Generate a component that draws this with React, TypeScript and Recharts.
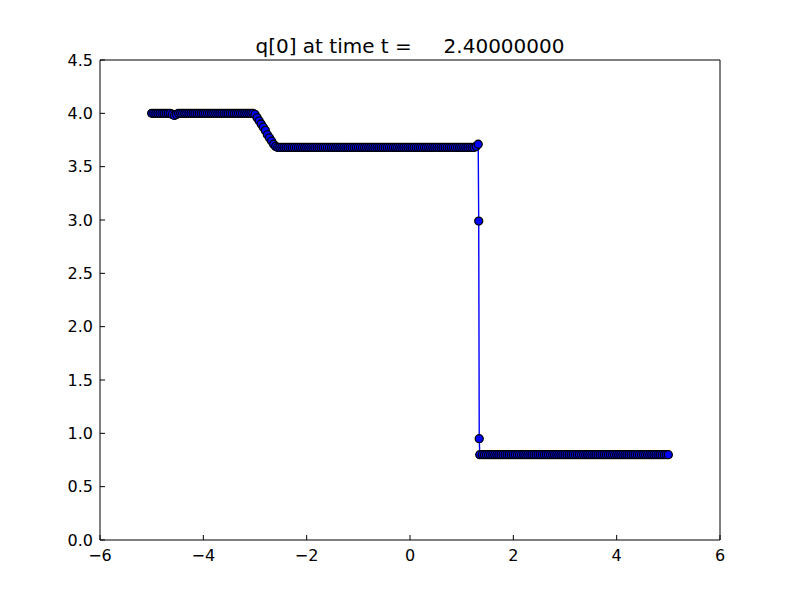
import { LineChart, Line, XAxis, YAxis } from "recharts"

// cells left of the shock
const xLeft = [
  -5.0, -4.96, -4.92, -4.88, -4.84, -4.8, -4.76, -4.72, -4.68, -4.64,
  -4.6, -4.56, -4.52, -4.48, -4.44, -4.4, -4.36, -4.32, -4.28, -4.24,
  -4.2, -4.16, -4.12, -4.08, -4.04, -4.0, -3.96, -3.92, -3.88, -3.84,
  -3.8, -3.76, -3.72, -3.68, -3.64, -3.6, -3.56, -3.52, -3.48, -3.44,
  -3.4, -3.36, -3.32, -3.28, -3.24, -3.2, -3.16, -3.12, -3.08, -3.04,
  -3.0, -2.96, -2.92, -2.88, -2.84, -2.8, -2.76, -2.72, -2.68, -2.64,
  -2.6, -2.56, -2.52, -2.48, -2.44, -2.4, -2.36, -2.32, -2.28, -2.24,
  -2.2, -2.16, -2.12, -2.08, -2.04, -2.0, -1.96, -1.92, -1.88, -1.84,
  -1.8, -1.76, -1.72, -1.68, -1.64, -1.6, -1.56, -1.52, -1.48, -1.44,
  -1.4, -1.36, -1.32, -1.28, -1.24, -1.2, -1.16, -1.12, -1.08, -1.04,
  -1.0, -0.96, -0.92, -0.88, -0.84, -0.8, -0.76, -0.72, -0.68, -0.64,
  -0.6, -0.56, -0.52, -0.48, -0.44, -0.4, -0.36, -0.32, -0.28, -0.24,
  -0.2, -0.16, -0.12, -0.08, -0.04, 0.0, 0.04, 0.08, 0.12, 0.16,
  0.2, 0.24, 0.28, 0.32, 0.36, 0.4, 0.44, 0.48, 0.52, 0.56,
  0.6, 0.64, 0.68, 0.72, 0.76, 0.8, 0.84, 0.88, 0.92, 0.96,
  1.0, 1.04, 1.08, 1.12, 1.16, 1.2, 1.24, 1.28,
]
const qLeft = [
  4.0, 4.0, 4.0, 4.0, 4.0, 4.0, 4.0, 4.0, 4.0, 4.0,
  3.99, 3.98, 3.99, 4.0, 4.0, 4.0, 4.0, 4.0, 4.0, 4.0,
  4.0, 4.0, 4.0, 4.0, 4.0, 4.0, 4.0, 4.0, 4.0, 4.0,
  4.0, 4.0, 4.0, 4.0, 4.0, 4.0, 4.0, 4.0, 4.0, 4.0,
  4.0, 4.0, 4.0, 4.0, 4.0, 4.0, 4.0, 4.0, 4.0, 4.0,
  3.99, 3.96, 3.93, 3.9, 3.87, 3.84, 3.8, 3.77, 3.74, 3.71,
  3.69, 3.68, 3.68, 3.68, 3.68, 3.68, 3.68, 3.68, 3.68, 3.68,
  3.68, 3.68, 3.68, 3.68, 3.68, 3.68, 3.68, 3.68, 3.68, 3.68,
  3.68, 3.68, 3.68, 3.68, 3.68, 3.68, 3.68, 3.68, 3.68, 3.68,
  3.68, 3.68, 3.68, 3.68, 3.68, 3.68, 3.68, 3.68, 3.68, 3.68,
  3.68, 3.68, 3.68, 3.68, 3.68, 3.68, 3.68, 3.68, 3.68, 3.68,
  3.68, 3.68, 3.68, 3.68, 3.68, 3.68, 3.68, 3.68, 3.68, 3.68,
  3.68, 3.68, 3.68, 3.68, 3.68, 3.68, 3.68, 3.68, 3.68, 3.68,
  3.68, 3.68, 3.68, 3.68, 3.68, 3.68, 3.68, 3.68, 3.68, 3.68,
  3.68, 3.68, 3.68, 3.68, 3.68, 3.68, 3.68, 3.68, 3.68, 3.68,
  3.68, 3.68, 3.68, 3.68, 3.68, 3.68, 3.68, 3.69,
]

// the shock itself
const xShock = [1.32, 1.33, 1.34, 1.35]
const qShock = [3.71, 2.99, 0.95, 0.8]

// cells right of the shock
const xRight = [
  1.4, 1.44, 1.48, 1.52, 1.56, 1.6, 1.64, 1.68, 1.72, 1.76,
  1.8, 1.84, 1.88, 1.92, 1.96, 2.0, 2.04, 2.08, 2.12, 2.16,
  2.2, 2.24, 2.28, 2.32, 2.36, 2.4, 2.44, 2.48, 2.52, 2.56,
  2.6, 2.64, 2.68, 2.72, 2.76, 2.8, 2.84, 2.88, 2.92, 2.96,
  3.0, 3.04, 3.08, 3.12, 3.16, 3.2, 3.24, 3.28, 3.32, 3.36,
  3.4, 3.44, 3.48, 3.52, 3.56, 3.6, 3.64, 3.68, 3.72, 3.76,
  3.8, 3.84, 3.88, 3.92, 3.96, 4.0, 4.04, 4.08, 4.12, 4.16,
  4.2, 4.24, 4.28, 4.32, 4.36, 4.4, 4.44, 4.48, 4.52, 4.56,
  4.6, 4.64, 4.68, 4.72, 4.76, 4.8, 4.84, 4.88, 4.92, 4.96,
  5.0,
]
const qRight = [
  0.8, 0.8, 0.8, 0.8, 0.8, 0.8, 0.8, 0.8, 0.8, 0.8,
  0.8, 0.8, 0.8, 0.8, 0.8, 0.8, 0.8, 0.8, 0.8, 0.8,
  0.8, 0.8, 0.8, 0.8, 0.8, 0.8, 0.8, 0.8, 0.8, 0.8,
  0.8, 0.8, 0.8, 0.8, 0.8, 0.8, 0.8, 0.8, 0.8, 0.8,
  0.8, 0.8, 0.8, 0.8, 0.8, 0.8, 0.8, 0.8, 0.8, 0.8,
  0.8, 0.8, 0.8, 0.8, 0.8, 0.8, 0.8, 0.8, 0.8, 0.8,
  0.8, 0.8, 0.8, 0.8, 0.8, 0.8, 0.8, 0.8, 0.8, 0.8,
  0.8, 0.8, 0.8, 0.8, 0.8, 0.8, 0.8, 0.8, 0.8, 0.8,
  0.8, 0.8, 0.8, 0.8, 0.8, 0.8, 0.8, 0.8, 0.8, 0.8,
  0.8,
]

const xTicks = [-6, -4, -2, 0, 2, 4, 6]
const yTicks = [0, 0.5, 1, 1.5, 2, 2.5, 3, 3.5, 4, 4.5]

const xs = [...xLeft, ...xShock, ...xRight]
const qs = [...qLeft, ...qShock, ...qRight]
const data = xs.map((x, i) => ({ x, q: qs[i] }))

const FONT = "'DejaVu Sans', sans-serif"

const fmtX = (v: number) => (v < 0 ? `\u2212${Math.abs(v)}` : `${v}`)
const fmtY = (v: number) => v.toFixed(1)

export default function App() {
  return (
    <div
      style={{
        position: "absolute",
        left: 0,
        top: 0,
        width: 800,
        height: 600,
        background: "#fff",
        fontFamily: FONT,
      }}
    >
      <div
        style={{
          position: "absolute",
          left: 100,
          top: 34,
          width: 620,
          height: 24,
          lineHeight: "24px",
          fontSize: 20,
          textAlign: "center",
          whiteSpace: "pre",
          color: "#000",
        }}
      >
        {"q[0] at time t =     2.40000000"}
      </div>
      <LineChart
        width={800}
        height={600}
        data={data}
        margin={{ top: 59, right: 79, bottom: 0, left: 50 }}
      >
        <XAxis
          xAxisId="b"
          dataKey="x"
          type="number"
          domain={[-6, 6]}
          ticks={xTicks}
          allowDataOverflow
          height={60}
          tickSize={-5}
          tickMargin={14.6}
          tickFormatter={fmtX}
          axisLine={{ stroke: "#000", strokeWidth: 1 }}
          tickLine={{ stroke: "#000" }}
          tick={{ fill: "#000", fontSize: 16, fontFamily: FONT }}
        />
        <XAxis
          xAxisId="t"
          dataKey="x"
          orientation="top"
          type="number"
          domain={[-6, 6]}
          ticks={xTicks}
          allowDataOverflow
          height={1}
          tickSize={-5}
          tick={false}
          axisLine={{ stroke: "#000", strokeWidth: 1 }}
          tickLine={{ stroke: "#000" }}
        />
        <YAxis
          yAxisId="l"
          type="number"
          domain={[0, 4.5]}
          ticks={yTicks}
          allowDataOverflow
          width={50}
          tickSize={-5}
          tickMargin={12}
          tickFormatter={fmtY}
          axisLine={{ stroke: "#000", strokeWidth: 1 }}
          tickLine={{ stroke: "#000" }}
          tick={{ fill: "#000", fontSize: 16, fontFamily: FONT }}
        />
        <YAxis
          yAxisId="r"
          orientation="right"
          type="number"
          domain={[0, 4.5]}
          ticks={yTicks}
          allowDataOverflow
          width={1}
          tickSize={-5}
          tick={false}
          axisLine={{ stroke: "#000", strokeWidth: 1 }}
          tickLine={{ stroke: "#000" }}
        />
        {/* invisible series so the top and right frame axes get drawn */}
        <Line
          xAxisId="t"
          yAxisId="r"
          type="linear"
          dataKey="q"
          stroke="none"
          dot={false}
          activeDot={false}
          isAnimationActive={false}
        />
        <Line
          xAxisId="b"
          yAxisId="l"
          type="linear"
          dataKey="q"
          stroke="#0000ff"
          strokeWidth={1.4}
          dot={{ r: 4, fill: "#0000ff", stroke: "#000", strokeWidth: 1.3 }}
          activeDot={false}
          isAnimationActive={false}
        />
      </LineChart>
    </div>
  )
}
